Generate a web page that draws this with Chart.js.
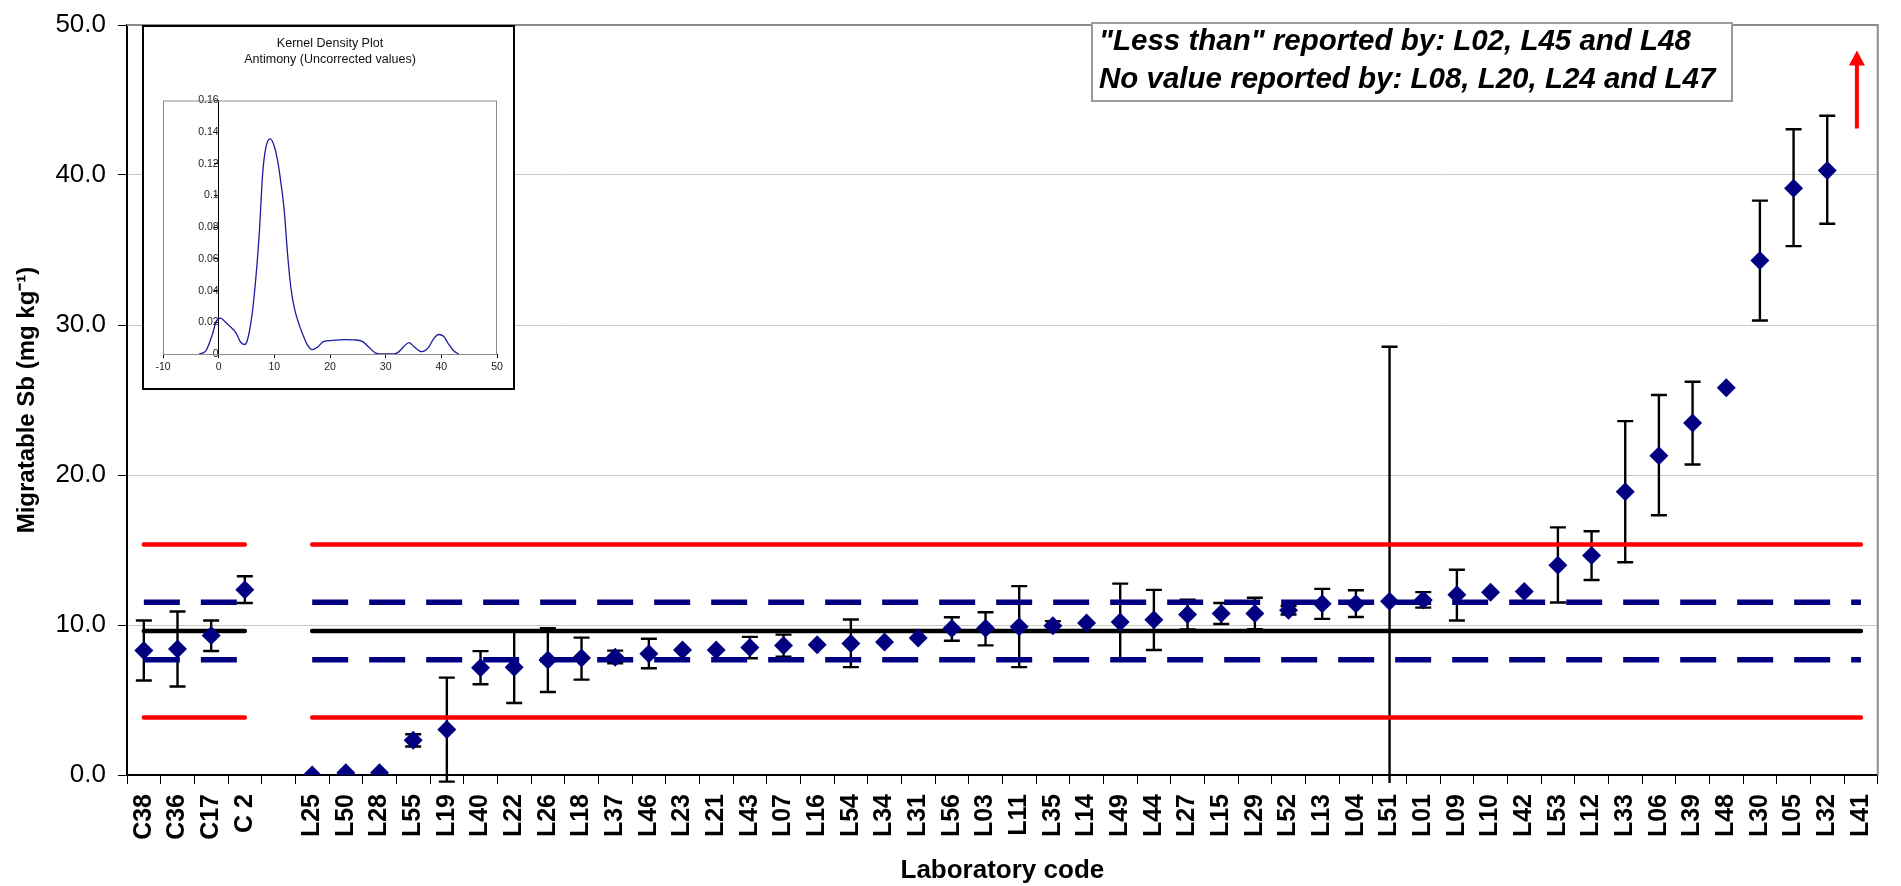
<!DOCTYPE html>
<html>
<head>
<meta charset="utf-8">
<title>Migratable Sb – laboratory results</title>
<script src="https://cdn.jsdelivr.net/npm/chart.js@4.4.1/dist/chart.umd.min.js"></script>
<style>
    html, body { margin: 0; padding: 0; background: #fff; }
    #wrap { position: relative; width: 1901px; height: 886px; }
    #main-chart { position: absolute; left: 0; top: 0; }
    #inset { position: absolute; left: 142px; top: 25px; width: 373px; height: 365px;
             box-sizing: border-box; border: 2px solid #000; background: #fff; }
    #kde-chart { display: block; }
</style>
</head>
<body>
<div id="wrap">
    <canvas id="main-chart" width="1901" height="886"></canvas>
    <div id="inset"><canvas id="kde-chart" width="369" height="361"></canvas></div>
</div>
<script>
/* global Chart */

var FONT = '"Liberation Sans", Arial, sans-serif';

// Laboratory codes ('' is the gap between the C-group and the L-group).
var labCodes = ['C38', 'C36', 'C17', 'C 2', '',
    'L25', 'L50', 'L28', 'L55', 'L19', 'L40', 'L22', 'L26', 'L18', 'L37', 'L46', 'L23',
    'L21', 'L43', 'L07', 'L16', 'L54', 'L34', 'L31', 'L56', 'L03', 'L11', 'L35', 'L14',
    'L49', 'L44', 'L27', 'L15', 'L29', 'L52', 'L13', 'L04', 'L51', 'L01', 'L09', 'L10',
    'L42', 'L53', 'L12', 'L33', 'L06', 'L39', 'L48', 'L30', 'L05', 'L32', 'L41'];

// Reported values (mg/kg).
var labValues = [8.3, 8.4, 9.3, 12.35, null,
    0.0, 0.15, 0.15, 2.32, 3.03, 7.15, 7.19, 7.67, 7.8, 7.85, 8.09, 8.33,
    8.33, 8.5, 8.64, 8.68, 8.77, 8.86, 9.14, 9.76, 9.78, 9.89, 9.95, 10.13,
    10.2, 10.35, 10.7, 10.77, 10.77, 10.98, 11.42, 11.42, 11.58, 11.66, 12.01, 12.19,
    12.24, 13.99, 14.64, 18.88, 21.29, 23.46, 25.81, 34.3, 39.12, 40.3, null];

// Expanded uncertainty: lower / upper end of each bar.
var errLow = [6.3, 5.9, 8.27, 11.47, null,
    null, null, null, 1.9, -0.44, 6.05, 4.8, 5.53, 6.36, 7.45, 7.12, null,
    null, 7.78, 7.89, null, 7.19, null, null, 8.95, 8.64, 7.19, 9.65, null,
    7.65, 8.33, 9.7, 10.07, 9.72, 10.7, 10.41, 10.53, -5.4, 11.16, 10.3, null,
    null, 11.5, 13.0, 14.18, 17.32, 20.7, null, 30.3, 35.26, 36.75, null];
var errHigh = [10.3, 10.9, 10.3, 13.25, null,
    null, null, null, 2.72, 6.49, 8.26, 9.6, 9.78, 9.16, 8.29, 9.08, null,
    null, 9.21, 9.36, null, 10.37, null, null, 10.52, 10.85, 12.59, 10.26, null,
    12.76, 12.34, 11.68, 11.47, 11.82, 11.27, 12.41, 12.32, 28.55, 12.19, 13.68, null,
    null, 16.51, 16.25, 23.59, 25.33, 26.22, null, 38.29, 43.05, 43.95, null];

// Assigned value and limits.
var assignedValue = 9.6;
var sigmaLow = 7.68, sigmaHigh = 11.52;
var limitLow = 3.84, limitHigh = 15.36;

// L41 is off scale: arrow from / to.
var arrowCode = 'L41', arrowFrom = 43.1, arrowTo = 48.3;

var yTicks = [0, 10, 20, 30, 40, 50];

var noteLines = ['"Less than" reported by: L02, L45 and L48',
    'No value reported by: L08, L20, L24 and L47'];

// Kernel density inset.
var kdeX = [-3.5, -2.3, -1.1, -0.5, 0.36, 0.96, 2.15, 3.05, 3.95, 4.66, 5.14, 6.0, 6.69,
    7.29, 7.9, 8.49, 9.26, 10.0, 10.59, 11.18, 11.78, 12.38, 12.97, 13.57, 14.41, 15.31,
    15.91, 16.8, 17.7, 18.9, 20.1, 22.5, 24.3, 25.8, 27.0, 28.2, 29.7, 31.5, 32.4, 33.3,
    34.2, 35.0, 36.5, 37.7, 38.6, 39.5, 40.4, 41.3, 42.2, 43.1];
var kdeY = [0, 0.002, 0.0127, 0.020, 0.0226, 0.021, 0.017, 0.0137, 0.0074, 0.006, 0.0085,
    0.025, 0.0484, 0.0758, 0.1137, 0.1305, 0.1358, 0.131, 0.122, 0.108, 0.0905, 0.063,
    0.042, 0.0294, 0.019, 0.0106, 0.0059, 0.0027, 0.0042, 0.008, 0.0085, 0.0091, 0.0089,
    0.008, 0.0042, 0.0006, 0, 0, 0.0015, 0.0049, 0.0072, 0.0049, 0.0015, 0.0042, 0.0095,
    0.0123, 0.0112, 0.0063, 0.0021, 0];

function refLine(v) {
    return labCodes.map(function (c) { return c === '' ? null : v; });
}

(function () {
    'use strict';

    // Error bars go under everything else.
    var errorBars = {
        id: 'errorBars',
        beforeDatasetsDraw: function (chart) {
            var ctx = chart.ctx, xs = chart.scales.x, ys = chart.scales.y, a = chart.chartArea;
            ctx.save();
            ctx.beginPath();
            ctx.rect(a.left, a.top - 2, a.right - a.left, a.bottom - a.top + 10);
            ctx.clip();
            ctx.strokeStyle = '#000';
            ctx.lineWidth = 2.4;
            labCodes.forEach(function (code, i) {
                if (errLow[i] === null) return;
                var px = xs.getPixelForValue(i);
                var top = ys.getPixelForValue(errHigh[i]);
                var bot = ys.getPixelForValue(errLow[i]);
                ctx.beginPath();
                ctx.moveTo(px, top); ctx.lineTo(px, bot);
                ctx.moveTo(px - 8, top); ctx.lineTo(px + 8, top);
                ctx.moveTo(px - 8, bot); ctx.lineTo(px + 8, bot);
                ctx.stroke();
            });
            ctx.restore();
            // Grey frame on top and right of the plot area.
            ctx.save();
            ctx.strokeStyle = '#8c8c8c';
            ctx.lineWidth = 2;
            ctx.beginPath();
            ctx.moveTo(a.left, a.top);
            ctx.lineTo(a.right, a.top);
            ctx.lineTo(a.right, a.bottom);
            ctx.stroke();
            ctx.restore();
        }
    };

    // Off-scale arrow and the note box.
    var extras = {
        id: 'extras',
        afterDatasetsDraw: function (chart) {
            var ctx = chart.ctx, xs = chart.scales.x, ys = chart.scales.y;
            var px = xs.getPixelForValue(labCodes.indexOf(arrowCode)) - 4;
            var y0 = ys.getPixelForValue(arrowFrom), y1 = ys.getPixelForValue(arrowTo);
            ctx.save();
            ctx.strokeStyle = '#ff0000';
            ctx.fillStyle = '#ff0000';
            ctx.lineWidth = 4;
            ctx.beginPath();
            ctx.moveTo(px, y0); ctx.lineTo(px, y1 + 12);
            ctx.stroke();
            ctx.beginPath();
            ctx.moveTo(px, y1); ctx.lineTo(px - 8, y1 + 15); ctx.lineTo(px + 8, y1 + 15);
            ctx.closePath();
            ctx.fill();

            ctx.fillStyle = '#fff';
            ctx.fillRect(1092, 23, 640, 78);
            ctx.strokeStyle = '#9a9a9a';
            ctx.lineWidth = 2;
            ctx.strokeRect(1092, 23, 640, 78);
            ctx.fillStyle = '#000';
            ctx.font = 'italic bold 29.5px ' + FONT;
            ctx.textBaseline = 'middle';
            ctx.textAlign = 'left';
            ctx.fillText(noteLines[0], 1099, 42);
            ctx.fillText(noteLines[1], 1099, 80);
            ctx.restore();
        }
    };

    new Chart(document.getElementById('main-chart'), {
        type: 'line',
        data: {
            labels: labCodes,
            datasets: [{
                label: 'Result',
                data: labValues,
                showLine: false,
                pointStyle: 'rectRot',
                pointRadius: 9.5,
                pointBorderWidth: 0,
                pointBackgroundColor: '#000080',
                pointBorderColor: '#000080'
            }, {
                label: 'Assigned value',
                data: refLine(assignedValue),
                borderColor: '#000',
                borderWidth: 4.5,
                borderCapStyle: 'round',
                pointRadius: 0
            }, {
                label: 'Lower sigma',
                data: refLine(sigmaLow),
                borderColor: '#000080',
                borderWidth: 5.5,
                borderDash: [36, 21],
                pointRadius: 0
            }, {
                label: 'Upper sigma',
                data: refLine(sigmaHigh),
                borderColor: '#000080',
                borderWidth: 5.5,
                borderDash: [36, 21],
                pointRadius: 0
            }, {
                label: 'Lower limit',
                data: refLine(limitLow),
                borderColor: '#ff0000',
                borderWidth: 4.5,
                borderCapStyle: 'round',
                pointRadius: 0
            }, {
                label: 'Upper limit',
                data: refLine(limitHigh),
                borderColor: '#ff0000',
                borderWidth: 4.5,
                borderCapStyle: 'round',
                pointRadius: 0
            }]
        },
        options: {
            responsive: false,
            animation: false,
            events: [],
            spanGaps: false,
            layout: { padding: { top: 15, right: 7, left: 0, bottom: 0 } },
            plugins: {
                legend: { display: false },
                tooltip: { enabled: false }
            },
            scales: {
                x: {
                    type: 'category',
                    offset: true,
                    grid: { drawOnChartArea: false, offset: true, tickLength: 9, tickColor: '#000', tickWidth: 1 },
                    border: { color: '#000', width: 2 },
                    ticks: {
                        autoSkip: false, minRotation: 90, maxRotation: 90, padding: 10,
                        color: '#000', font: { family: FONT, size: 25, weight: 'bold' }
                    },
                    title: {
                        display: true, text: 'Laboratory code', color: '#000',
                        font: { family: FONT, size: 26, weight: 'bold' },
                        padding: { top: 0, bottom: 0 }
                    },
                    afterFit: function (s) { s.height = 111; }
                },
                y: {
                    min: 0,
                    max: 50,
                    afterBuildTicks: function (s) {
                        s.ticks = yTicks.map(function (v) { return { value: v }; });
                    },
                    ticks: {
                        padding: 12, color: '#000',
                        font: { family: FONT, size: 26, lineHeight: 1 },
                        callback: function (v) { return Number(v).toFixed(1); }
                    },
                    grid: { color: '#c8c8c8', lineWidth: 1, tickLength: 9, tickColor: '#000' },
                    border: { color: '#000', width: 2 },
                    title: {
                        display: true, text: 'Migratable Sb (mg kg\u207B\u00B9)', color: '#000',
                        font: { family: FONT, size: 24, weight: 'bold' },
                        padding: { top: 13, bottom: 0 }
                    },
                    afterFit: function (s) { s.width = 127; }
                }
            }
        },
        plugins: [errorBars, extras]
    });

    // Inset: kernel density plot.
    var plotFrame = {
        id: 'plotFrame',
        beforeDatasetsDraw: function (chart) {
            var a = chart.chartArea, ctx = chart.ctx;
            ctx.save();
            ctx.strokeStyle = '#8c8c8c';
            ctx.lineWidth = 1;
            ctx.strokeRect(a.left + 0.5, a.top + 0.5, a.right - a.left - 1, a.bottom - a.top);
            ctx.restore();
        }
    };

    new Chart(document.getElementById('kde-chart'), {
        type: 'scatter',
        data: {
            datasets: [{
                label: 'Density',
                data: kdeX.map(function (x, i) { return { x: x, y: kdeY[i] }; }),
                showLine: true,
                borderColor: '#1c1c9c',
                borderWidth: 1.3,
                pointRadius: 0,
                cubicInterpolationMode: 'monotone'
            }]
        },
        options: {
            responsive: false,
            animation: false,
            events: [],
            layout: { padding: { left: 19, right: 16, top: 0, bottom: 0 } },
            plugins: {
                legend: { display: false },
                tooltip: { enabled: false },
                title: {
                    display: true,
                    text: ['Kernel Density Plot', 'Antimony (Uncorrected values)'],
                    color: '#111',
                    font: { family: FONT, size: 12.5, weight: 'normal', lineHeight: 1.3 },
                    padding: { top: 8, bottom: 33 }
                }
            },
            scales: {
                x: {
                    type: 'linear', min: -10, max: 50,
                    ticks: { stepSize: 10, padding: 3, color: '#222', font: { family: FONT, size: 10.5 } },
                    grid: { drawOnChartArea: false, tickLength: 4, tickColor: '#000' },
                    border: { color: '#000', width: 1 },
                    afterFit: function (s) { s.height = 34; }
                },
                y: {
                    type: 'linear', position: { x: 0 }, min: 0, max: 0.16,
                    ticks: {
                        stepSize: 0.02, padding: 3, color: '#222', font: { family: FONT, size: 10.5 },
                        callback: function (v) { return String(Number(Number(v).toFixed(2))); }
                    },
                    grid: { drawOnChartArea: false, tickLength: 4, tickColor: '#000' },
                    border: { color: '#000', width: 1 }
                }
            }
        },
        plugins: [plotFrame]
    });
})();
</script>
</body>
</html>
